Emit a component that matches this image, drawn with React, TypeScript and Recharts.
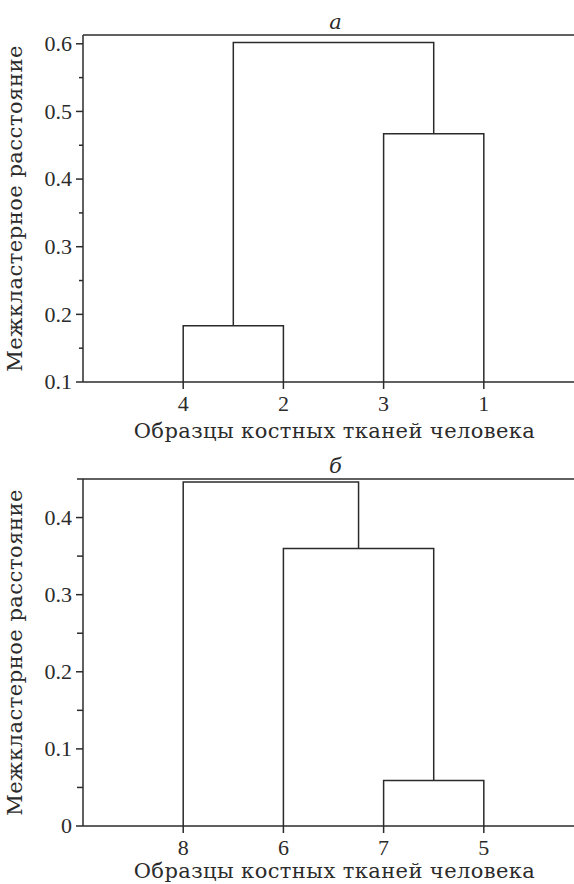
import { LineChart, Line, XAxis, YAxis, ReferenceLine, Label } from 'recharts'

// panel а
const leavesA = ['4', '2', '3', '1']
const pairsA: [number, number][] = [[0, 1], [2, 3], [4, 5]]
const heightsA = [0.183, 0.467, 0.602]
const yMajorA = [0.1, 0.2, 0.3, 0.4, 0.5, 0.6]
const yTicksA = [0.1, 0.15, 0.2, 0.25, 0.3, 0.35, 0.4, 0.45, 0.5, 0.55, 0.6]

// panel б
const leavesB = ['8', '6', '7', '5']
const pairsB: [number, number][] = [[2, 3], [1, 4], [0, 5]]
const heightsB = [0.059, 0.36, 0.446]
const yMajorB = [0, 0.1, 0.2, 0.3, 0.4]
const yTicksB = [0, 0.05, 0.1, 0.15, 0.2, 0.25, 0.3, 0.35, 0.4, 0.45]

const INK = '#2b2b2b'
const FONT = '"DejaVu Serif", serif'
const NUM_FONT = '"Liberation Serif", serif'
const xLabel = 'Образцы костных тканей человека'
const yLabel = 'Межкластерное расстояние'

// leaves sit at x = 1..n, each merge gets the midpoint of its children
function buildLinks(n: number, pairs: [number, number][], heights: number[], base: number) {
  const xs = leavesIdx(n)
  const hs = xs.map(() => base)
  return pairs.map(([a, b], i) => {
    const h = heights[i]
    const pts = [
      { x: xs[a], y: hs[a] },
      { x: xs[a], y: h },
      { x: xs[b], y: h },
      { x: xs[b], y: hs[b] },
    ]
    xs.push((xs[a] + xs[b]) / 2)
    hs.push(h)
    return pts
  })
}

function leavesIdx(n: number) {
  return Array.from({ length: n }, (_, i) => i + 1)
}

const fmt = (v: number) => (v === 0 ? '0' : v.toFixed(1))

function YTick(props: any) {
  const { x, y, payload, major, majorLen, minorLen } = props
  const isMajor = major.some((m: number) => Math.abs(m - payload.value) < 1e-9)
  return (
    <g>
      <line x1={x - (isMajor ? majorLen : minorLen)} x2={x} y1={y} y2={y} stroke={INK} strokeWidth={1.5} />
      {isMajor && (
        <text x={x - majorLen - 4} y={y} dy="0.33em" textAnchor="end" fill={INK} fontSize={22} fontFamily={NUM_FONT}>
          {fmt(payload.value)}
        </text>
      )}
    </g>
  )
}

type PanelProps = {
  title: string
  leaves: string[]
  pairs: [number, number][]
  heights: number[]
  yDomain: [number, number]
  yTicks: number[]
  yMajor: number[]
  minorLen: number
  height: number
  top: number
  labelOffset: number
}

function Dendrogram(p: PanelProps) {
  const links = buildLinks(p.leaves.length, p.pairs, p.heights, p.yDomain[0])
  return (
    <LineChart width={574} height={p.height} margin={{ top: p.top, right: 0, bottom: 10, left: 0 }}>
      <XAxis
        type="number"
        dataKey="x"
        domain={[0, 4.9]}
        allowDataOverflow
        ticks={leavesIdx(p.leaves.length)}
        tickFormatter={(v: number) => p.leaves[v - 1]}
        height={58}
        tickSize={7}
        tickMargin={6}
        stroke={INK}
        strokeWidth={1.5}
        tick={{ fill: INK, fontSize: 22, fontFamily: NUM_FONT }}
      >
        <Label
          value={xLabel}
          position="insideBottom"
          offset={p.labelOffset}
          dx={6}
          style={{ fill: INK, fontSize: 21, fontFamily: FONT, letterSpacing: 0.4 }}
        />
      </XAxis>
      <YAxis
        type="number"
        dataKey="y"
        domain={p.yDomain}
        allowDataOverflow
        ticks={p.yTicks}
        width={83}
        tickSize={0}
        tickMargin={0}
        tickLine={false}
        stroke={INK}
        strokeWidth={1.5}
        tick={(t: any) => <YTick {...t} major={p.yMajor} majorLen={7} minorLen={p.minorLen} />}
      >
        <Label
          value={yLabel}
          angle={-90}
          position="insideLeft"
          offset={19}
          dx={-4}
          style={{ fill: INK, fontSize: 21, fontFamily: FONT, textAnchor: 'middle', letterSpacing: 0.5 }}
        />
      </YAxis>
      <ReferenceLine y={p.yDomain[1]} stroke={INK} strokeWidth={1.5}>
        <Label
          value={p.title}
          position="top"
          dx={7}
          offset={6}
          style={{ fill: INK, fontSize: 21, fontFamily: FONT, fontStyle: 'italic' }}
        />
      </ReferenceLine>
      {links.map((d, i) => (
        <Line
          key={i}
          data={d}
          dataKey="y"
          type="linear"
          stroke={INK}
          strokeWidth={1.5}
          dot={false}
          activeDot={false}
          isAnimationActive={false}
        />
      ))}
    </LineChart>
  )
}

export default function App() {
  return (
    <div
      style={{
        position: 'absolute',
        left: 0,
        top: 0,
        width: 574,
        height: 884,
        overflow: 'hidden',
        background: '#fff',
      }}
    >
      <div style={{ position: 'absolute', left: 0, top: 0 }}>
        <Dendrogram
          title="а"
          leaves={leavesA}
          pairs={pairsA}
          heights={heightsA}
          yDomain={[0.1, 0.613]}
          yTicks={yTicksA}
          yMajor={yMajorA}
          minorLen={4}
          height={450}
          top={35}
          labelOffset={2}
        />
      </div>
      <div style={{ position: 'absolute', left: 0, top: 440 }}>
        <Dendrogram
          title="б"
          leaves={leavesB}
          pairs={pairsB}
          heights={heightsB}
          yDomain={[0, 0.45]}
          yTicks={yTicksB}
          yMajor={yMajorB}
          minorLen={6}
          height={454}
          top={39}
          labelOffset={6}
        />
      </div>
    </div>
  )
}
